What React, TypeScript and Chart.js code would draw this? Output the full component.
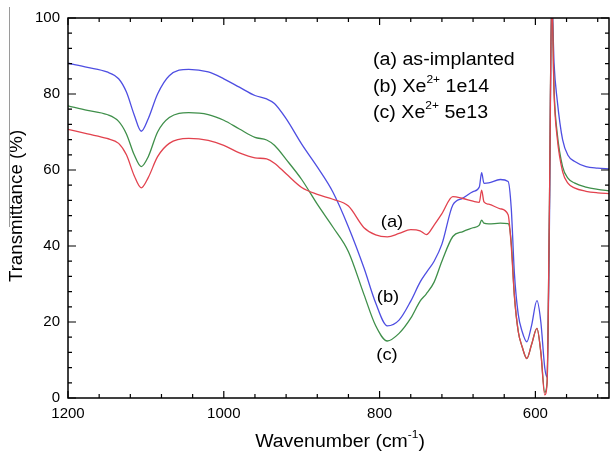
import { useEffect, useRef } from "react";
import { Chart, registerables } from "chart.js";

Chart.register(...registerables);

// Wavenumber (cm^-1) sample positions shared by all three spectra
const wavenumbers = [
  1200, 1175, 1150, 1135, 1125, 1115, 1106, 1097, 1085, 1070, 1045, 1020, 1000, 980, 960, 945, 935, 920,
  900, 880, 860, 840, 820, 805, 790, 775, 760, 748, 740, 730, 720, 706, 693, 680, 672, 669, 666, 660,
  645, 635, 631, 627, 622, 617, 611, 605, 598, 593, 588, 585, 582, 579, 576, 572, 565, 558, 550, 535,
  520, 505,
];

// (a) as-implanted  (red)
const seriesA = [
  70.7, 69.5, 68.3, 67.0, 64.0, 58.5, 55.3, 58.0, 63.5, 67.0, 68.3, 67.8, 66.5, 64.5, 63.2, 62.9, 61.8, 59.0,
  55.4, 53.6, 52.3, 50.5, 44.8, 42.9, 42.4, 43.3, 44.3, 44.0, 43.0, 45.5, 48.5, 53.0, 52.5, 51.8, 51.5, 54.7, 51.6, 51.0,
  49.8, 48.2, 40.0, 27.0, 17.5, 13.5, 10.4, 14.0, 18.3, 12.0, 0.8, 4.0, 50.0, 106.0, 80.0, 68.5, 59.5, 56.5, 55.3, 54.4,
  54.0, 53.8,
];

// (b) Xe2+ 1e14  (blue)
const seriesB = [
  88.1, 87.0, 85.8, 84.0, 80.5, 74.5, 70.2, 73.5, 80.0, 84.8, 86.5, 85.8, 84.0, 81.8, 79.6, 78.7, 77.5, 73.5,
  66.8, 60.8, 54.2, 45.0, 34.2, 25.0, 19.0, 20.5, 25.5, 30.5, 33.0, 36.0, 40.5, 50.8, 52.6, 54.3, 55.5, 59.3, 56.5, 56.6,
  57.5, 57.0, 50.0, 33.0, 22.0, 17.5, 14.8, 19.0, 25.6, 20.0, 8.0, 5.5, 45.0, 106.0, 88.0, 78.4, 67.9, 63.8, 62.3, 60.9,
  60.5, 60.3,
];

// (c) Xe2+ 5e13  (green)
const seriesC = [
  76.9, 75.7, 74.6, 72.8, 69.5, 64.0, 60.9, 63.5, 70.0, 73.8, 75.1, 74.6, 73.1, 70.8, 68.6, 67.9, 66.5, 62.8,
  57.5, 51.0, 45.0, 38.5, 27.2, 19.0, 15.0, 17.0, 21.0, 25.5, 27.4, 30.5, 36.0, 42.5, 43.8, 44.8, 45.5, 46.8, 46.0, 45.8,
  46.0, 45.9, 41.0, 27.0, 17.5, 13.5, 10.4, 14.0, 18.3, 12.0, 1.5, 4.0, 50.0, 106.0, 81.0, 69.7, 60.8, 57.8, 56.6, 55.5,
  54.9, 54.5,
];

const xMajorTicks = [1200, 1000, 800, 600];
const yMajorTicks = [0, 20, 40, 60, 80, 100];

const FONT = '"Liberation Sans", Arial, sans-serif';

type Seg = { t: string; sup?: boolean };

function drawRich(
  ctx: CanvasRenderingContext2D,
  segs: Seg[],
  x: number,
  y: number,
  size: number,
  sx: number,
  align: "left" | "center"
) {
  const supSize = Math.round(size * 0.62);
  const widths = segs.map((s) => {
    ctx.font = `${s.sup ? supSize : size}px ${FONT}`;
    return ctx.measureText(s.t).width * sx;
  });
  const total = widths.reduce((a, b) => a + b, 0);
  let cx = align === "center" ? x - total / 2 : x;
  segs.forEach((s, i) => {
    ctx.font = `${s.sup ? supSize : size}px ${FONT}`;
    ctx.save();
    ctx.translate(cx, s.sup ? y - size * 0.38 : y);
    ctx.scale(sx, 1);
    ctx.textAlign = "left";
    ctx.textBaseline = "middle";
    ctx.fillText(s.t, 0, 0);
    ctx.restore();
    cx += widths[i];
  });
}

const framePlugin = {
  id: "originFrame",
  afterDraw(chart: any) {
    const ctx: CanvasRenderingContext2D = chart.ctx;
    const { left, right, top, bottom } = chart.chartArea;
    const xs = chart.scales.x;
    const ys = chart.scales.y;
    ctx.save();
    ctx.strokeStyle = "#000";
    ctx.fillStyle = "#000";
    ctx.lineWidth = 1.5;
    ctx.strokeRect(left, top, right - left, bottom - top);

    ctx.lineWidth = 1.2;
    // x ticks (bottom & top, inward)
    for (let v = 1200; v >= 500; v -= 40) {
      const px = xs.getPixelForValue(v);
      if (px < left - 0.5 || px > right + 0.5) continue;
      const major = xMajorTicks.includes(v);
      const len = major ? 7 : 4;
      ctx.beginPath();
      ctx.moveTo(px, bottom);
      ctx.lineTo(px, bottom - len);
      ctx.moveTo(px, top);
      ctx.lineTo(px, top + len);
      ctx.stroke();
    }
    // y ticks (left & right, inward)
    for (let v = 0; v <= 100; v += 4) {
      const py = ys.getPixelForValue(v);
      const major = yMajorTicks.includes(v);
      const len = major ? 8 : 4;
      ctx.beginPath();
      ctx.moveTo(left, py);
      ctx.lineTo(left + len, py);
      ctx.moveTo(right, py);
      ctx.lineTo(right - len, py);
      ctx.stroke();
    }

    // tick labels
    ctx.font = `15px ${FONT}`;
    ctx.textBaseline = "middle";
    ctx.textAlign = "right";
    yMajorTicks.forEach((v) => ctx.fillText(String(v), left - 8, ys.getPixelForValue(v)));
    ctx.textAlign = "center";
    xMajorTicks.forEach((v) => ctx.fillText(String(v), xs.getPixelForValue(v), bottom + 16));

    // axis titles
    drawRich(ctx, [{ t: "Wavenumber (cm" }, { t: "-1", sup: true }, { t: ")" }], 340, 442, 18, 1.08, "center");
    ctx.save();
    ctx.translate(17, 206);
    ctx.rotate(-Math.PI / 2);
    drawRich(ctx, [{ t: "Transmittance (%)" }], 0, 0, 18, 1.04, "center");
    ctx.restore();

    // legend text
    drawRich(ctx, [{ t: "(a) as-implanted" }], 373, 60, 18, 1.09, "left");
    drawRich(ctx, [{ t: "(b) Xe" }, { t: "2+", sup: true }, { t: " 1e14" }], 373, 87, 18, 1.09, "left");
    drawRich(ctx, [{ t: "(c) Xe" }, { t: "2+", sup: true }, { t: " 5e13" }], 373, 113, 18, 1.09, "left");

    // curve labels
    drawRich(ctx, [{ t: "(a)" }], 392, 222, 17, 1.08, "center");
    drawRich(ctx, [{ t: "(b)" }], 388, 297, 17, 1.08, "center");
    drawRich(ctx, [{ t: "(c)" }], 387, 355, 17, 1.08, "center");

    // faint scan edge line at the far left
    ctx.strokeStyle = "#9a9a9a";
    ctx.lineWidth = 1;
    ctx.beginPath();
    ctx.moveTo(9.5, 7);
    ctx.lineTo(9.5, 227);
    ctx.stroke();
    ctx.restore();
  },
};

export default function App() {
  const ref = useRef<HTMLCanvasElement | null>(null);

  useEffect(() => {
    if (!ref.current) return;
    const mk = (vals: number[]) => wavenumbers.map((x, i) => ({ x, y: vals[i] }));
    const chart = new Chart(ref.current, {
      type: "line",
      data: {
        datasets: [
          { label: "(a) as-implanted", data: mk(seriesA), borderColor: "#e2424e" },
          { label: "(c) Xe2+ 5e13", data: mk(seriesC), borderColor: "#3f8f4a" },
          { label: "(b) Xe2+ 1e14", data: mk(seriesB), borderColor: "#4e4ee2" },
        ].map((d) => ({
          ...d,
          borderWidth: 1.3,
          pointRadius: 0,
          fill: false,
          cubicInterpolationMode: "monotone" as const,
        })),
      },
      options: {
        responsive: false,
        animation: false,
        devicePixelRatio: 1,
        layout: { padding: { left: 68, right: 1, top: 18, bottom: 57 } },
        plugins: { legend: { display: false }, tooltip: { enabled: false }, title: { display: false } },
        scales: {
          x: { type: "linear", reverse: true, min: 505.5, max: 1200, display: false },
          y: { type: "linear", min: 0, max: 100, display: false },
        },
      },
      plugins: [framePlugin],
    });
    return () => chart.destroy();
  }, []);

  return (
    <div style={{ position: "fixed", left: 0, top: 0, width: 610, height: 455, background: "#fff" }}>
      <canvas ref={ref} width={610} height={455} />
    </div>
  );
}
